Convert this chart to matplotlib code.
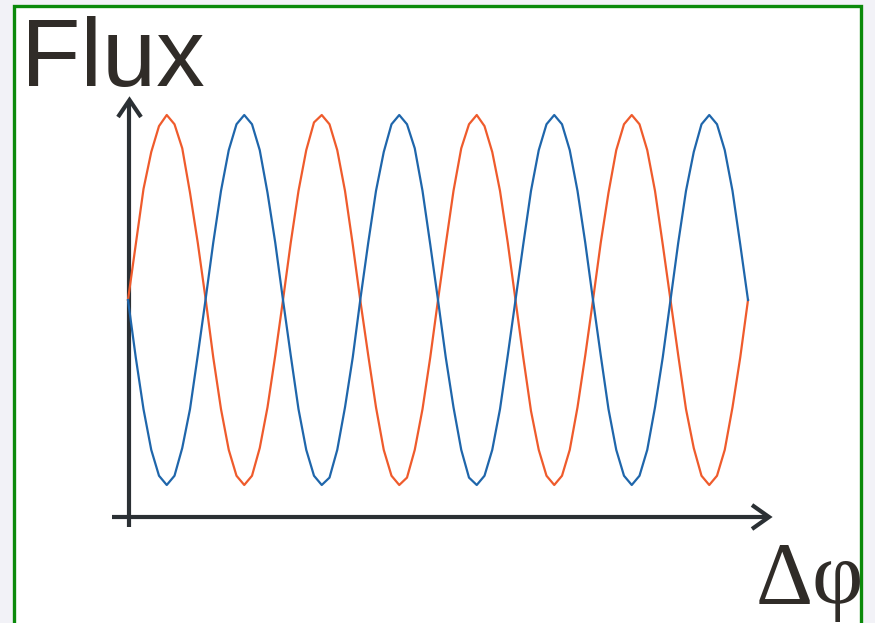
import numpy as np
import matplotlib
matplotlib.use("Agg")
import matplotlib.pyplot as plt
from matplotlib.patches import Rectangle

# Readings of the two flux curves, 20 samples per period, 4 periods
orange_flux = [
    0.00, 0.30, 0.60, 0.80, 0.94, 1.00, 0.95, 0.82, 0.58, 0.31,
    0.01, -0.31, -0.59, -0.81, -0.95, -1.00, -0.95, -0.80, -0.58, -0.30,
    0.00, 0.31, 0.59, 0.81, 0.96, 1.00, 0.95, 0.81, 0.59, 0.30,
    -0.01, -0.30, -0.58, -0.81, -0.95, -1.00, -0.96, -0.81, -0.59, -0.31,
    0.00, 0.30, 0.59, 0.82, 0.95, 1.00, 0.94, 0.80, 0.59, 0.31,
    0.00, -0.31, -0.60, -0.81, -0.95, -1.00, -0.95, -0.81, -0.58, -0.30,
    0.00, 0.31, 0.58, 0.81, 0.95, 1.00, 0.95, 0.81, 0.59, 0.30,
    0.00, -0.30, -0.59, -0.80, -0.95, -1.00, -0.95, -0.81, -0.58, -0.31,
    0.00,
]
blue_flux = [
    0.00, -0.31, -0.59, -0.81, -0.95, -1.00, -0.95, -0.80, -0.59, -0.30,
    0.00, 0.31, 0.59, 0.81, 0.95, 1.00, 0.95, 0.81, 0.58, 0.31,
    0.00, -0.30, -0.59, -0.81, -0.95, -1.00, -0.96, -0.81, -0.58, -0.31,
    0.01, 0.31, 0.59, 0.80, 0.95, 1.00, 0.95, 0.82, 0.59, 0.30,
    0.00, -0.31, -0.58, -0.81, -0.96, -1.00, -0.95, -0.81, -0.59, -0.30,
    0.00, 0.30, 0.59, 0.81, 0.95, 1.00, 0.95, 0.81, 0.59, 0.31,
    0.00, -0.30, -0.59, -0.81, -0.95, -1.00, -0.95, -0.81, -0.58, -0.31,
    0.00, 0.31, 0.59, 0.80, 0.95, 1.00, 0.95, 0.81, 0.59, 0.30,
    0.00,
]
n_periods = 4
phase = np.linspace(0, n_periods, len(orange_flux))

ORANGE = "#ef5b2c"
BLUE = "#1f66ab"
AXIS = "#2b3034"
TEXT = "#302c28"

W, H = 875, 623
fig = plt.figure(figsize=(W / 100, H / 100), dpi=100)
fig.patch.set_facecolor("#f2f2f7")

# overlay in pixel coords for frame, arrows and labels
deco = fig.add_axes([0, 0, 1, 1])
deco.set_xlim(0, W)
deco.set_ylim(H, 0)
deco.axis("off")

deco.add_patch(Rectangle((14, 6), 847, 640, facecolor="white",
                         edgecolor="#0b8a0b", lw=2.4, clip_on=False))

# y axis arrow
deco.plot([129, 129], [527, 101], color=AXIS, lw=3, solid_capstyle="butt")
deco.plot([118, 129.5, 141], [117, 100, 117], color=AXIS, lw=3,
          solid_capstyle="butt", solid_joinstyle="miter")
# x axis arrow
deco.plot([112, 768], [516.5, 516.5], color=AXIS, lw=3, solid_capstyle="butt")
deco.plot([752, 769, 752], [505, 517, 529], color=AXIS, lw=3,
          solid_capstyle="butt", solid_joinstyle="miter")

deco.text(21, 86, "Flux", fontsize=70, family="Liberation Sans",
          color=TEXT, va="baseline", ha="left")
deco.text(756, 603, "Δφ", fontsize=64, family="Liberation Serif",
          color=TEXT, va="baseline", ha="left")

# curves
left, right, top, bottom = 128, 748, 115, 485
ax = fig.add_axes([left / W, 1 - bottom / H, (right - left) / W, (bottom - top) / H])
ax.patch.set_alpha(0)
ax.set_xlim(0, n_periods)
ax.set_ylim(-1, 1)
ax.axis("off")
ax.plot(phase, orange_flux, color=ORANGE, lw=1.6, clip_on=False)
ax.plot(phase, blue_flux, color=BLUE, lw=1.6, clip_on=False)

fig.savefig("out.png", dpi=100, facecolor=fig.get_facecolor())
